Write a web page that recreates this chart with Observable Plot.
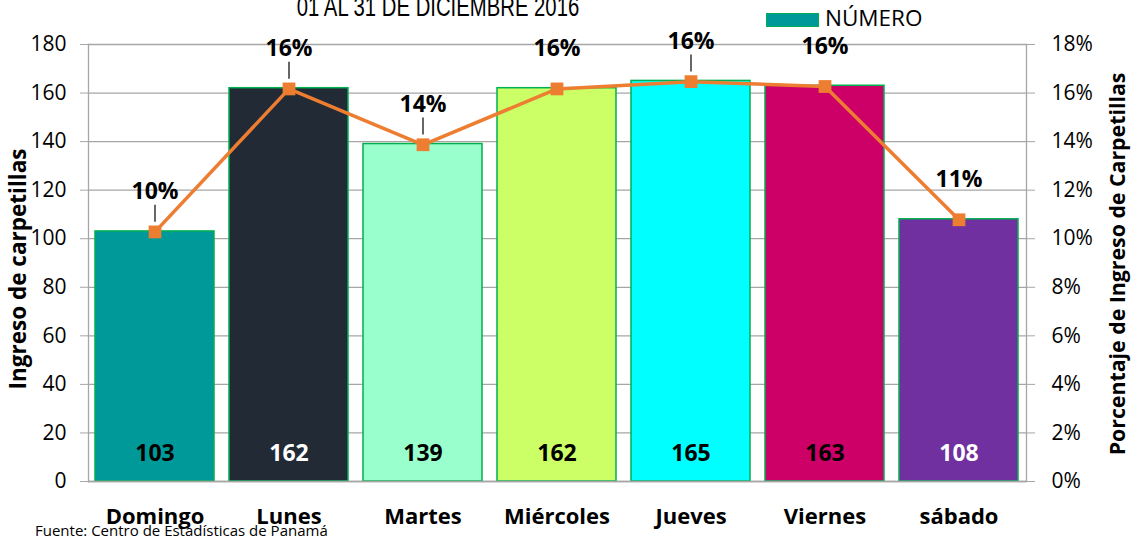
<!DOCTYPE html>
<html><head><meta charset="utf-8">
<script src="https://cdn.jsdelivr.net/npm/d3@7"></script>
<script src="https://cdn.jsdelivr.net/npm/@observablehq/plot@0.6"></script>
<style>
body{margin:0;background:#fff;}
#wrap{position:relative;width:1135px;height:541px;overflow:hidden;font-family:"Open Sans",sans-serif;}
#title{position:absolute;left:0;width:876px;text-align:center;top:-7px;line-height:28px;font-family:"Liberation Sans",Arial,sans-serif;font-size:28px;color:#000;white-space:nowrap;transform:scaleX(0.725);transform-origin:438px 0;}
#legend{position:absolute;left:766px;top:3px;display:flex;align-items:center;font-family:"Open Sans",sans-serif;font-size:22.5px;line-height:30px;}
#legend span.sw{display:inline-block;width:53px;height:14px;background:#009999;border:1px solid #00B050;margin-right:6px;margin-top:3px;box-sizing:border-box;}
#caption{position:absolute;left:35px;top:520px;font-size:15px;line-height:20px;color:#000;white-space:nowrap;}
</style></head>
<body><div id="wrap">
<div id="chart"></div>
<div id="title">01 AL 31 DE DICIEMBRE 2016</div>
<div id="legend"><span class="sw"></span>NÚMERO</div>
<div id="caption">Fuente: Centro de Estadísticas de Panamá</div>
</div>
<script>
const days = ["Domingo","Lunes","Martes","Miércoles","Jueves","Viernes","sábado"];
const counts = [103,162,139,162,165,163,108];
const percents = [0.1028,0.1617,0.1387,0.1617,0.1647,0.1627,0.1078];
const barColors = ["#009999","#222A35","#99FFCC","#CCFF66","#00FFFF","#CC0066","#7030A0"];
const leftTicks = [0,20,40,60,80,100,120,140,160,180];
const rightTicks = ["0%","2%","4%","6%","8%","10%","12%","14%","16%","18%"];
const whiteLabelDays = ["Lunes","sábado"];
const leaderDays = ["Domingo","Lunes","Martes","Jueves"];

const rows = days.map((d,i)=>({day:d,count:counts[i],pct:percents[i],pctScaled:percents[i]*1000}));
const grid = "#A6A6A6";

const chart = Plot.plot({
  width:1135, height:541,
  marginLeft:88, marginRight:109, marginTop:44, marginBottom:60,
  style:{fontFamily:"'Open Sans',sans-serif", background:"white"},
  x:{domain:days, paddingInner:0.11, paddingOuter:0.055, label:null},
  y:{domain:[0,180], label:null},
  color:{domain:days, range:barColors},
  marks:[
    Plot.gridY(leftTicks,{stroke:grid, strokeOpacity:1, strokeWidth:1.3}),
    Plot.frame({anchor:"left", stroke:grid, strokeWidth:1.3}),
    Plot.frame({anchor:"right", stroke:grid, strokeWidth:1.3}),
    Plot.barY(rows,{x:"day", y:"count", fill:"day", stroke:"#00B050", strokeWidth:1.5}),
    Plot.ruleY([0],{stroke:grid, strokeWidth:1.3}),
    Plot.axisY({ticks:leftTicks, anchor:"left", tickSize:8, tickPadding:14, fontSize:21, stroke:grid, label:null}),
    Plot.axisY({ticks:leftTicks, anchor:"right", tickSize:8, tickPadding:17, fontSize:21, stroke:grid, tickFormat:(d,i)=>rightTicks[i], label:null}),
    Plot.axisX({tickSize:0, tickPadding:27, fontSize:22, fontWeight:"bold", label:null}),
    Plot.text(rows,{x:"day", y:0, dy:-28, text:d=>String(d.count), fontSize:23, fontWeight:"bold", fill:d=>whiteLabelDays.includes(d.day)?"white":"black"}),
    Plot.line(rows,{x:"day", y:"pctScaled", stroke:"#ED7D31", strokeWidth:3.5}),
    Plot.dot(rows,{x:"day", y:"pctScaled", symbol:"square", r:7.2, fill:"#ED7D31", stroke:"none"}),
    Plot.ruleX(rows.filter(d=>leaderDays.includes(d.day)),{x:"day", y1:d=>d.pctScaled+4, y2:d=>d.pctScaled+11, stroke:"black", strokeWidth:1.2}),
    Plot.text(rows,{x:"day", y:"pctScaled", dy:-40, text:d=>Math.round(d.pct*100)+"%", fontSize:23, fontWeight:"bold", fill:"black"}),
    Plot.text(["Ingreso de carpetillas"],{frameAnchor:"left", textAnchor:"middle", dx:-70, dy:6, rotate:-90, fontSize:22.5, fontWeight:"bold", fill:"black"}),
    Plot.text(["Porcentaje de Ingreso de Carpetillas"],{frameAnchor:"right", textAnchor:"middle", dx:92, dy:1, rotate:-90, fontSize:21.3, fontWeight:"bold", fill:"black"})
  ]
});
document.getElementById("chart").appendChild(chart);
</script>
</body></html>
